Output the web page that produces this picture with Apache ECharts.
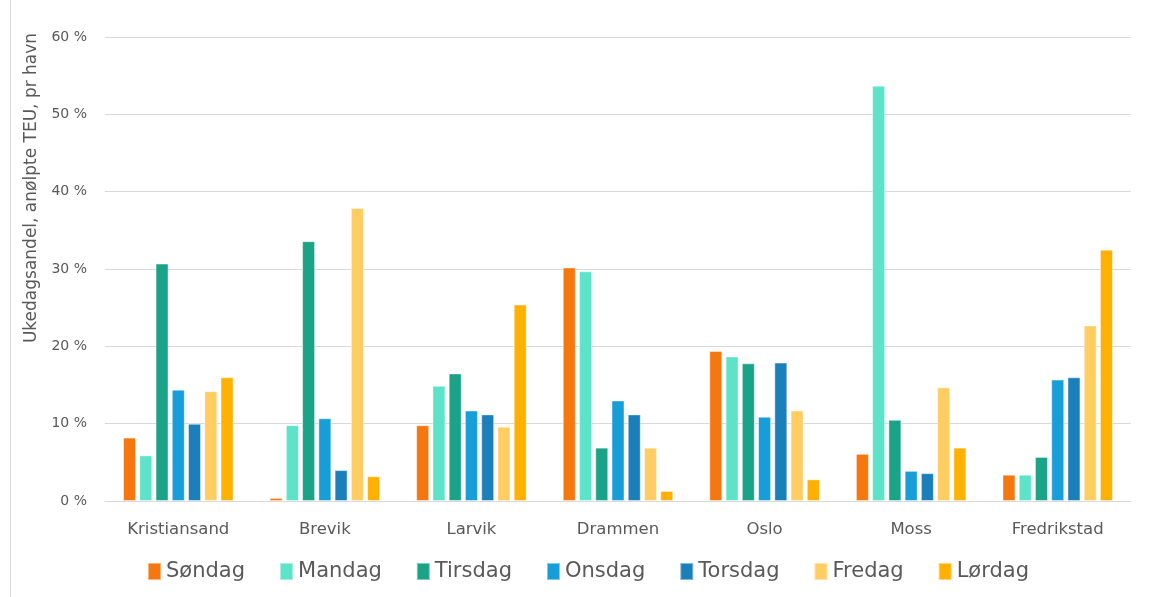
<!DOCTYPE html>
<html>
<head>
<meta charset="utf-8">
<script src="https://cdn.jsdelivr.net/npm/echarts@6/dist/echarts.min.js"></script>
<style>
  html, body { margin: 0; padding: 0; background: #fff; }
  #chart { width: 1151px; height: 597px; }
</style>
</head>
<body>
<div id="chart"></div>
<script>
// havner (kategorier)
const ports = ['Kristiansand', 'Brevik', 'Larvik', 'Drammen', 'Oslo', 'Moss', 'Fredrikstad']
// ukedagsandel i prosent, per havn
const sondag = [8.2, 0.4, 9.8, 30.2, 19.4, 6.1, 3.4]
const mandag = [5.9, 9.8, 14.9, 29.7, 18.7, 53.7, 3.4]
const tirsdag = [30.7, 33.6, 16.5, 6.9, 17.8, 10.5, 5.7]
const onsdag = [14.4, 10.7, 11.7, 13.0, 10.9, 3.9, 15.7]
const torsdag = [10.0, 4.0, 11.2, 11.2, 17.9, 3.6, 16.0]
const fredag = [14.2, 37.9, 9.6, 6.9, 11.7, 14.7, 22.7]
const lordag = [16.0, 3.2, 25.4, 1.3, 2.8, 6.9, 32.5]

const days = ['Søndag', 'Mandag', 'Tirsdag', 'Onsdag', 'Torsdag', 'Fredag', 'Lørdag']
const values = [sondag, mandag, tirsdag, onsdag, torsdag, fredag, lordag]
const colors = ['#f4770f', '#5ce3c8', '#1aa386', '#179dd8', '#1b80b9', '#ffcd62', '#ffb000']

const font = 'DejaVu Sans'
const textColor = '#595959'

const chart = echarts.init(document.getElementById('chart'))
chart.setOption({
  animation: false,
  color: colors,
  textStyle: { fontFamily: font },
  grid: { left: 105, right: 20, top: 37, bottom: 96 },
  legend: {
    bottom: 10,
    left: 142,
    itemWidth: 13,
    itemHeight: 17,
    itemGap: 34,
    icon: 'rect',
    textStyle: { fontSize: 21, color: textColor, fontFamily: font },
    data: days
  },
  xAxis: {
    type: 'category',
    data: ports,
    axisLine: { lineStyle: { color: '#d9d9d9' } },
    axisTick: { show: false },
    axisLabel: { color: textColor, fontSize: 16.5, margin: 20, fontFamily: font }
  },
  yAxis: {
    type: 'value',
    min: 0,
    max: 60,
    interval: 10,
    axisLine: { show: false },
    axisTick: { show: false },
    splitLine: { lineStyle: { color: '#d9d9d9' } },
    axisLabel: { color: textColor, fontSize: 14, margin: 18, formatter: '{value} %', fontFamily: font }
  },
  graphic: [
    {
      type: 'line',
      shape: { x1: 10.5, y1: 0, x2: 10.5, y2: 597 },
      style: { stroke: '#d9d9d9', lineWidth: 1 }
    },
    {
      type: 'text',
      x: 32,
      y: 188,
      rotation: Math.PI / 2,
      style: {
        text: 'Ukedagsandel, anølpte TEU, pr havn',
        fill: textColor,
        fontSize: 17,
        fontFamily: font,
        align: 'center',
        verticalAlign: 'middle'
      }
    }
  ],
  series: days.map((d, i) => ({
    name: d,
    type: 'bar',
    data: values[i],
    barWidth: 13,
    barGap: '25%',
    itemStyle: { borderColor: 'rgba(255,255,255,0.45)', borderWidth: 1 }
  }))
})
</script>
</body>
</html>
